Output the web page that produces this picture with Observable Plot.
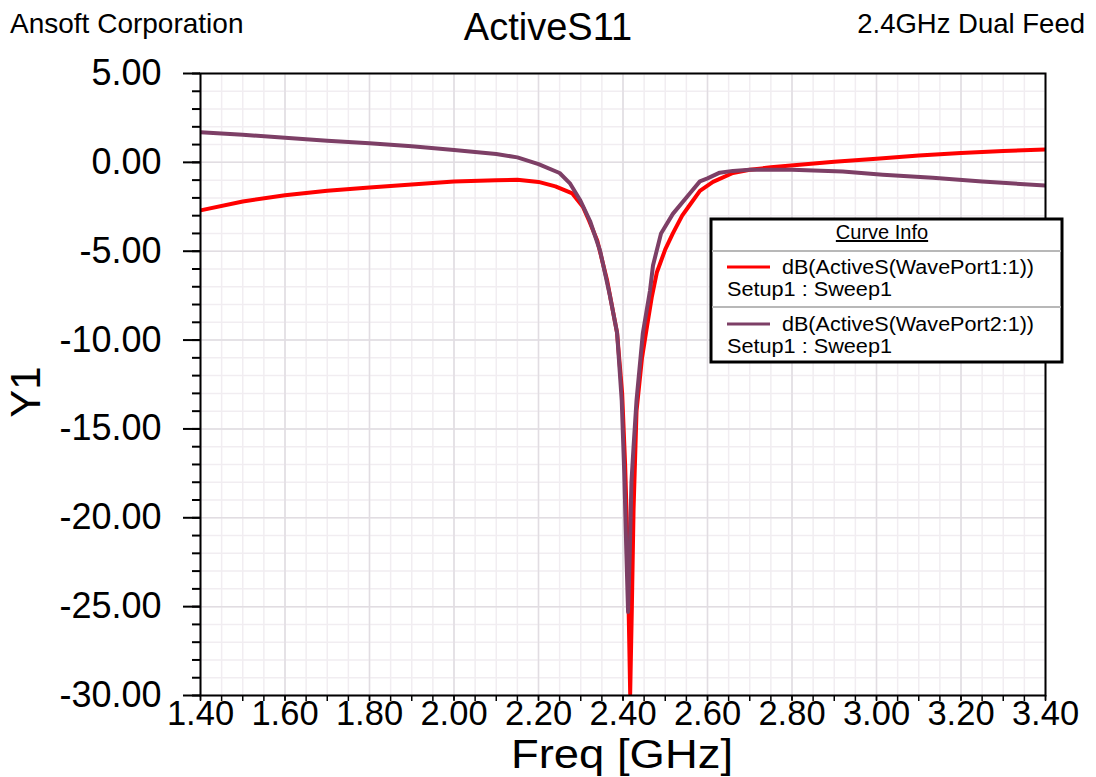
<!DOCTYPE html>
<html><head><meta charset="utf-8">
<script src="https://cdn.jsdelivr.net/npm/d3@7"></script>
<script src="https://cdn.jsdelivr.net/npm/@observablehq/plot@0.6"></script>
<style>
body{margin:0;background:#fff;font-family:"Liberation Sans",Arial,sans-serif;}
#wrap{position:relative;width:1096px;height:777px;overflow:hidden;}
#wrap svg{position:absolute;left:0;top:0;}
</style></head><body><div id="wrap"></div>
<script>
// Series 1: dB(ActiveS(WavePort1:1))
const freq1 = [1.40,1.50,1.60,1.70,1.80,1.90,2.00,2.10,2.15,2.20,2.24,2.28,2.305,2.32,2.339,2.362,2.386,2.398,2.405,2.41,2.414,2.417,2.421,2.425,2.432,2.445,2.457,2.468,2.48,2.50,2.518,2.54,2.558,2.582,2.613,2.66,2.70,2.75,2.818,2.90,3.00,3.10,3.20,3.30,3.40];
const db1   = [-2.70,-2.20,-1.85,-1.60,-1.42,-1.25,-1.08,-1.00,-0.98,-1.10,-1.35,-1.75,-2.5,-3.3,-4.4,-6.6,-9.6,-13,-17,-21,-26,-29.9,-25,-19.5,-14,-11,-9.2,-7.6,-6.2,-4.9,-4.0,-3.0,-2.4,-1.6,-1.1,-0.6,-0.42,-0.28,-0.13,0.03,0.20,0.38,0.53,0.64,0.72];
// Series 2: dB(ActiveS(WavePort2:1))
const freq2 = [1.40,1.50,1.60,1.70,1.80,1.90,2.00,2.10,2.15,2.20,2.25,2.275,2.298,2.322,2.346,2.369,2.386,2.397,2.403,2.408,2.412,2.416,2.42,2.425,2.432,2.447,2.464,2.471,2.49,2.518,2.558,2.582,2.60,2.629,2.66,2.70,2.80,2.92,3.015,3.133,3.25,3.40];
const db2   = [1.69,1.55,1.38,1.22,1.07,0.90,0.70,0.47,0.28,-0.10,-0.60,-1.2,-2.1,-3.3,-5.0,-7.5,-9.6,-13.4,-17.5,-22,-25.3,-22,-18,-16,-13.4,-9.6,-7.2,-5.8,-4.0,-2.9,-1.75,-1.07,-0.9,-0.58,-0.48,-0.42,-0.42,-0.52,-0.70,-0.87,-1.08,-1.30];

const seriesNames = ["dB(ActiveS(WavePort1:1))","dB(ActiveS(WavePort2:1))"];
const seriesColors = ["#ff0000","#7d3f66"];
const xTicks = [1.40,1.60,1.80,2.00,2.20,2.40,2.60,2.80,3.00,3.20,3.40];
const yTicks = [5,0,-5,-10,-15,-20,-25,-30];
const xMinor = d3.range(0,41).map(i => +(1.4 + i*0.05).toFixed(2));
const yMinor = d3.range(-30,6);

const s1 = freq1.map((f,i)=>({f, db: db1[i]}));
const s2 = freq2.map((f,i)=>({f, db: db2[i]}));
const fmt = d => d.toFixed(2);

const chart = Plot.plot({
  width:1096, height:777,
  marginLeft:200, marginRight:51, marginTop:73, marginBottom:82,
  x:{domain:[1.4,3.4]}, y:{domain:[-30,5]},
  style:{fontFamily:"'Liberation Sans', Arial, sans-serif", background:"white", color:"black"},
  marks:[
    Plot.ruleX(xMinor, {stroke:"#f1edf1", strokeWidth:1.5}),
    Plot.ruleY(yMinor, {stroke:"#f1edf1", strokeWidth:1.5}),
    Plot.ruleX(xTicks, {stroke:"#e1dde2", strokeWidth:1.5}),
    Plot.ruleY(yTicks, {stroke:"#e1dde2", strokeWidth:1.5}),
    Plot.line(s1, {x:"f", y:"db", stroke:seriesColors[0], strokeWidth:4, clip:true}),
    Plot.line(s2, {x:"f", y:"db", stroke:seriesColors[1], strokeWidth:4, clip:true}),
    Plot.frame({stroke:"black", strokeWidth:2}),
    Plot.axisY(yMinor, {tickSize:8, tickFormat:()=>"", label:null, strokeWidth:2}),
    Plot.axisY(yTicks, {tickSize:17, tickPadding:22, fontSize:36, tickFormat:fmt, label:null, strokeWidth:2}),
    Plot.axisX(xMinor, {tickSize:6, tickFormat:()=>"", label:null, strokeWidth:1.5}),
    Plot.axisX(xTicks, {tickSize:5, tickPadding:0, fontSize:34.5, tickFormat:fmt, label:null, strokeWidth:1.5})
  ]
});
const wrap = document.getElementById("wrap");
wrap.appendChild(chart);

// Overlay: titles, axis labels, legend
const ov = d3.select(wrap).append("svg").attr("width",1096).attr("height",777)
  .style("font-family","'Liberation Sans', Arial, sans-serif").style("pointer-events","none");
ov.append("text").attr("x",10).attr("y",33).attr("font-size",28).text("Ansoft Corporation");
ov.append("text").attr("x",548).attr("y",40).attr("font-size",38).attr("text-anchor","middle").text("ActiveS11");
ov.append("text").attr("x",1085).attr("y",33).attr("font-size",27.5).attr("text-anchor","end").text("2.4GHz Dual Feed");
ov.append("text").attr("transform","translate(40,392) rotate(-90)").attr("font-size",42).attr("text-anchor","middle").text("Y1");
ov.append("text").attr("x",622).attr("y",768).attr("font-size",40).attr("text-anchor","middle")
  .attr("textLength",222).attr("lengthAdjust","spacingAndGlyphs").text("Freq [GHz]");

const lg = ov.append("g");
lg.append("rect").attr("x",711).attr("y",219).attr("width",351).attr("height",143).attr("fill","white").attr("stroke","black").attr("stroke-width",3);
lg.append("text").attr("x",882).attr("y",239).attr("font-size",20).attr("text-anchor","middle").attr("text-decoration","underline").text("Curve Info");
[251,307].forEach(y => lg.append("line").attr("x1",712).attr("x2",1061).attr("y1",y).attr("y2",y).attr("stroke","#b8b8b8").attr("stroke-width",2));
const entryY = [267,324];
seriesNames.forEach((name,i) => {
  const y = entryY[i];
  lg.append("line").attr("x1",727).attr("x2",770).attr("y1",y).attr("y2",y).attr("stroke",seriesColors[i]).attr("stroke-width",3);
  lg.append("text").attr("x",782).attr("y",y+7).attr("font-size",19.5)
    .attr("textLength",252).attr("lengthAdjust","spacingAndGlyphs").text(name);
  lg.append("text").attr("x",727).attr("y",y+29).attr("font-size",19.5)
    .attr("textLength",165).attr("lengthAdjust","spacingAndGlyphs").text("Setup1 : Sweep1");
});
</script>
</body></html>
